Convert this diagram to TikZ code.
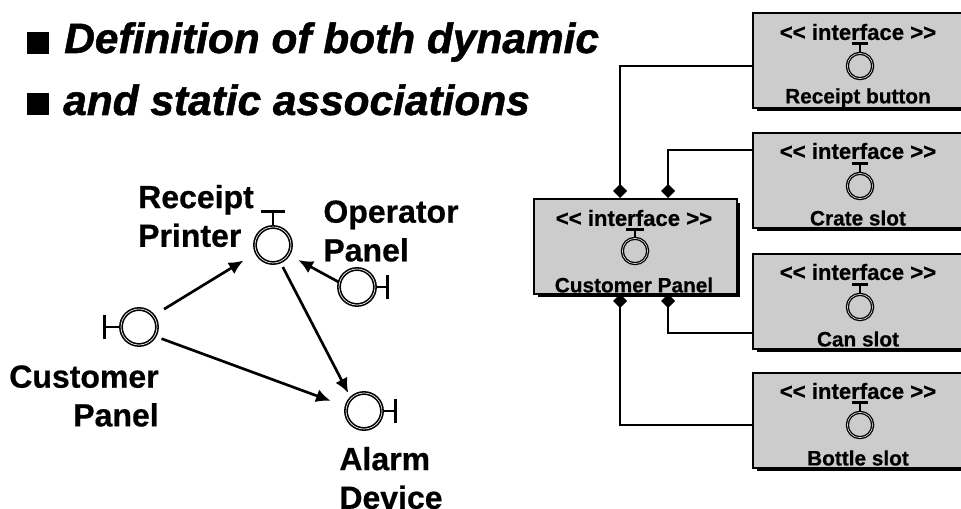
\documentclass[tikz,border=0pt]{standalone}
\usepackage{fontspec}
\setmainfont{Liberation Sans}[BoldFeatures={FakeBold=0.6},BoldItalicFeatures={FakeBold=1.2}]
\usetikzlibrary{shadows,arrows.meta}
\begin{document}
\begin{tikzpicture}[x=0.75pt,y=-0.75pt]
	\tikzset{
		ifbox/.style={draw,line width=1.8pt,fill=black!20,minimum height=71pt,inner sep=0pt,anchor=north west,general shadow={fill=black,shadow xshift=2.5pt,shadow yshift=-2.5pt}},
		ifword/.style={font=\bfseries\fontsize{16.6}{18}\selectfont,inner sep=0pt},
		ifname/.style={font=\bfseries\fontsize{15.6}{18}\selectfont,inner sep=0pt},
		head/.style={font=\bfseries\itshape\fontsize{31.8}{36}\selectfont,inner sep=0pt,anchor=base west},
		tag/.style={font=\bfseries\fontsize{24}{29}\selectfont,inner sep=0pt},
		bullet/.style={fill=black,minimum size=16pt,inner sep=0pt},
		ball/.style={circle,draw,double,line width=1.2pt,double distance=0.5pt,minimum size=27pt,inner sep=0pt},
		bead/.style={circle,draw,double,line width=1pt,double distance=0.4pt,minimum size=19pt,inner sep=0pt},
		dep/.style={line width=2pt,arrows={-Latex[length=11pt,width=10pt]}},
		link/.style={line width=2pt},
	}
	\useasboundingbox (0,0) rectangle (961,509);
	\clip (0,0) rectangle (961,509);
	\node[bullet] (b1) at (38,43) {};
	\node[bullet] (b2) at (38,104) {};
	\node[head] (h1) at (64,53) {Definition of both dynamic};
	\node[head] (h2) at (63,115) {and static associations};

	\node[ball] (rcpt) at (273,245) {};
	\node[ball] (oper) at (357,287) {};
	\node[ball] (cust) at (139,327) {};
	\node[ball] (alrm) at (364,411) {};
	\draw[link] (rcpt.90) -- ++(0,-15) ++(-12,0) -- ++(24,0);
	\draw[link] (oper.0) -- ++(12,0) ++(0,-12) -- ++(0,24);
	\draw[link] (cust.180) -- ++(-16,0) ++(0,-12) -- ++(0,24);
	\draw[link] (alrm.0) -- ++(13,0) ++(0,-12) -- ++(0,24);
	\draw[dep,shorten <=9pt,shorten >=11pt] (cust.38) -- (rcpt.205);
	\draw[dep,shorten >=8pt] (oper.165) -- (rcpt.-32);
	\draw[dep,shorten <=4pt,shorten >=4pt] (rcpt.-67) -- (alrm.135);
	\draw[dep,shorten <=5pt,shorten >=12pt] (cust.-30) -- (alrm.166);
	\node[tag,align=left] (t1) at (196,216) {Receipt\\Printer};
	\node[tag,align=left] (t2) at (391,231) {Operator\\Panel};
	\node[tag,align=right] (t3) at (84,396) {Customer\\Panel};
	\node[tag,align=left] (t4) at (391,478) {Alarm\\Device};

	\node[ifbox,minimum width=152pt] (cp) at (533,198) {};
	\node[ifword] (cp1) at (634,218) {<{}< interface >{}>};
	\node[bead] (cp2) at (635,251) {};
	\node[ifname] (cp3) at (634,285) {Customer Panel};
	\draw[link] (cp2.90) -- ++(0,-8) ++(-9,0) -- ++(18,0);

	\node[ifbox,minimum width=165pt] (rb) at (752,12) {};
	\node[ifword] (rb1) at (858,32) {<{}< interface >{}>};
	\node[bead] (rb2) at (860,66) {};
	\node[ifname] (rb3) at (858,98) {Receipt button};
	\draw[link] (rb2.90) -- ++(0,-9) ++(-8,0) -- ++(16,0);

	\node[ifbox,minimum width=165pt] (cs) at (752,132) {};
	\node[ifword] (cs1) at (858,151) {<{}< interface >{}>};
	\node[bead] (cs2) at (860,186) {};
	\node[ifname] (cs3) at (858,218) {Crate slot};
	\draw[link] (cs2.90) -- ++(0,-9) ++(-8,0) -- ++(16,0);

	\node[ifbox,minimum width=165pt] (ca) at (752,253) {};
	\node[ifword] (ca1) at (858,272) {<{}< interface >{}>};
	\node[bead] (ca2) at (860,307) {};
	\node[ifname] (ca3) at (858,339) {Can slot};
	\draw[link] (ca2.90) -- ++(0,-9) ++(-8,0) -- ++(16,0);

	\node[ifbox,minimum width=165pt] (bs) at (752,372) {};
	\node[ifword] (bs1) at (858,391) {<{}< interface >{}>};
	\node[bead] (bs2) at (860,425) {};
	\node[ifname] (bs3) at (858,458) {Bottle slot};
	\draw[link] (bs2.90) -- ++(0,-9) ++(-8,0) -- ++(16,0);

	\coordinate (d1) at (620,191);
	\coordinate (d2) at (668,191);
	\coordinate (d3) at (620,301);
	\coordinate (d4) at (668,301);
	\draw[link] (rb.west |- 0,66) -| (d1);
	\draw[link] (cs.west |- 0,150) -| (d2);
	\draw[link] (ca.west |- 0,333) -| (d4);
	\draw[link] (bs.west |- 0,425) -| (d3);
	\fill (d1) +(-7,0) -- +(0,-7) -- +(7,0) -- +(0,7) -- cycle;
	\fill (d2) +(-7,0) -- +(0,-7) -- +(7,0) -- +(0,7) -- cycle;
	\fill (d3) +(-7,0) -- +(0,-7) -- +(7,0) -- +(0,7) -- cycle;
	\fill (d4) +(-7,0) -- +(0,-7) -- +(7,0) -- +(0,7) -- cycle;
\end{tikzpicture}
\end{document}
